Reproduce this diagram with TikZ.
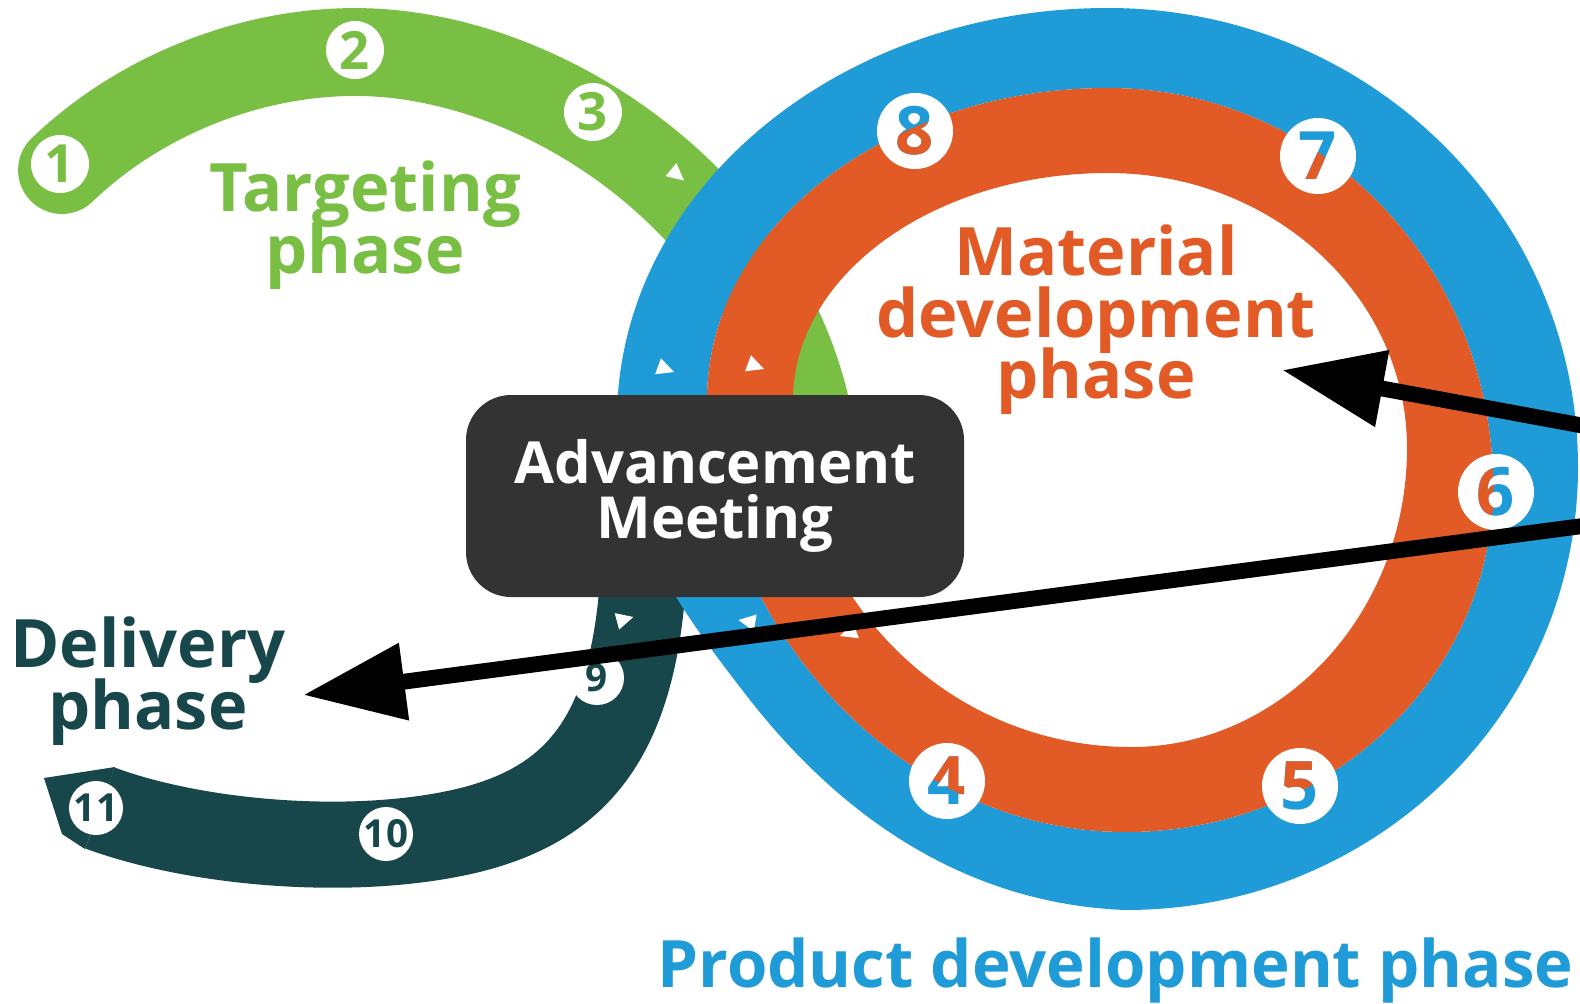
\documentclass[tikz,border=0pt]{standalone}
\usepackage{fontspec}
\setmainfont{Open Sans}
\usepackage{tikz}
\usetikzlibrary{arrows.meta, shapes.geometric}

\definecolor{phasegreen}{HTML}{79BF43}
\definecolor{ringblue}{HTML}{1F9BD7}
\definecolor{ringorange}{HTML}{E25B26}
\definecolor{phaseteal}{HTML}{17474A}
\definecolor{boxgray}{HTML}{333333}

\newcommand{\tightlines}{\lineskiplimit=-100pt\relax}

\tikzset{
	orangeouter/.style={insert path={(1108,88) .. controls (1321,88) and (1493,266) .. (1493,486) .. controls (1493,677) and (1329,832) .. (1126,832) .. controls (895,832) and (715,620) .. (707,400) .. controls (707,228) and (887,88) .. (1108,88) -- cycle}},
	numgreen/.style={circle, fill=white, inner sep=0pt, minimum size=5.8mm, text=phasegreen, font=\fontsize{15}{15}\selectfont\bfseries},
	numring/.style={circle, fill=white, inner sep=0pt, minimum size=7.6mm, text=ringblue, font=\fontsize{19}{19}\selectfont\bfseries},
	digitring/.style={inner sep=0pt, text=ringorange, font=\fontsize{19}{19}\selectfont\bfseries},
	numteal/.style={circle, fill=white, inner sep=0pt, minimum size=5.4mm, text=phaseteal, font=\fontsize{11}{11}\selectfont\bfseries},
	flowtip/.style={isosceles triangle, isosceles triangle apex angle=60, isosceles triangle stretches, fill=white, inner sep=0pt, minimum width=1.7mm, minimum height=1.7mm},
	phaselabel/.style={align=center, font=\fontsize{19}{17.5}\selectfont\bfseries\tightlines},
	meetbox/.style={rectangle, rounded corners=4.5mm, fill=boxgray, text=white, minimum width=49.8mm, minimum height=20.2mm, align=center, font=\fontsize{16.5}{15.7}\selectfont\bfseries\tightlines},
	pointer/.style={line width=4.5pt, -{Triangle[length=29pt, width=21pt]}},
}

\begin{document}
\begin{tikzpicture}[x=0.1mm, y=-0.1mm]
	\useasboundingbox (0,0) rectangle (1580,1003);
	\fill[white] (0,0) rectangle (1580,1003);
	% targeting phase
	\draw[phasegreen, line width=25pt, line cap=round] (62,170) .. controls (140,95) and (250,52) .. (355,52) .. controls (560,52) and (800,230) .. (815,470);
	\node[numgreen] (n1) at (60,164) {1};
	\node[numgreen] (n2) at (355,50) {2};
	\node[numgreen] (n3) at (593,112) {3};
	\node[flowtip, rotate=-40] (tipg) at (675,173) {};
	% delivery phase
	\draw[phaseteal, line width=24.5pt] (645,520) .. controls (645,720) and (590,800) .. (470,830) .. controls (360,857) and (200,845) .. (100,808);
	\fill[phaseteal] (115,767) -- (44,778) -- (62,834) -- (85,849) -- cycle;
	\node[numteal] (n9) at (597,678) {9};
	\node[numteal] (n10) at (386,834) {10};
	\node[numteal] (n11) at (96,808) {11};
	\node[flowtip, rotate=15] (tipt) at (622,620) {};
	% product and material development
	\fill[ringblue, even odd rule] (1108,8) .. controls (1368,8) and (1578,213) .. (1578,467) .. controls (1578,712) and (1376,910) .. (1126,910) .. controls (990,905) and (860,840) .. (750,700) .. controls (678,608) and (617,520) .. (617,420) .. controls (617,192) and (837,8) .. (1108,8) -- cycle [orangeouter];
	\fill[ringorange, even odd rule, orangeouter] (1108,173) .. controls (1273,173) and (1407,296) .. (1407,448) .. controls (1407,613) and (1283,747) .. (1131,747) .. controls (944,747) and (793,592) .. (793,400) .. controls (793,275) and (934,173) .. (1108,173) -- cycle;
	\node[flowtip, rotate=-20] (tipb1) at (663,368) {};
	\node[flowtip, rotate=-20] (tipo1) at (753,365) {};
	\node[flowtip, rotate=170] (tipb2) at (750,622) {};
	\node[flowtip, rotate=200] (tipo2) at (851,632) {};
	\node[numring] (n4) at (947,781) {4};
	\node[numring] (n5) at (1300,786) {5};
	\node[numring] (n6) at (1496,492) {6};
	\node[numring] (n7) at (1318,156) {7};
	\node[numring] (n8) at (915,131) {8};
	\begin{scope}
		\clip[orangeouter];
		\node[digitring] (d4) at (n4) {4};
		\node[digitring] (d5) at (n5) {5};
		\node[digitring] (d6) at (n6) {6};
		\node[digitring] (d7) at (n7) {7};
		\node[digitring] (d8) at (n8) {8};
	\end{scope}
	\node[meetbox] (meet) at (715,496) {Advancement\\Meeting};
	% labels
	\node[phaselabel, text=phasegreen] (targ) at (365,225) {Targeting\\phase};
	\node[phaselabel, text=ringorange] (mat) at (1096,320) {Material\\development\\phase};
	\node[phaselabel, text=phaseteal] (deliv) at (148,681) {Delivery\\phase};
	\node[font=\fontsize{18.6}{18.6}\selectfont\bfseries, text=ringblue, anchor=base west, inner sep=0pt] (prod) at (657,987) {Product development phase};
	% pointers
	\coordinate (edgeA) at (1590,427);
	\coordinate (tipA) at (1282,370);
	\coordinate (edgeB) at (1590,525);
	\coordinate (tipB) at (303,695);
	\draw[pointer] (edgeA) -- (tipA);
	\draw[pointer] (edgeB) -- (tipB);
\end{tikzpicture}
\end{document}
